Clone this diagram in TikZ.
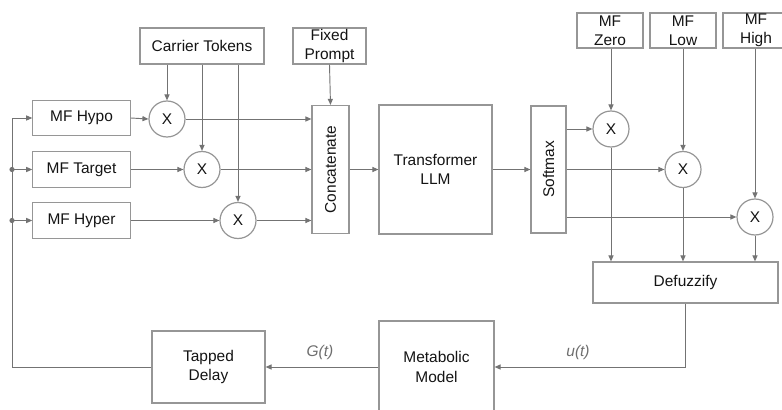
\documentclass[tikz,border=0pt]{standalone}
\usepackage{fontspec}
\setmainfont{Liberation Sans}
\usetikzlibrary{arrows.meta}

\definecolor{boxgray}{RGB}{150,150,150}
\definecolor{linegray}{RGB}{115,115,115}
\definecolor{textdark}{RGB}{20,20,20}
\definecolor{labelgray}{RGB}{110,110,110}

\begin{document}
\begin{tikzpicture}[x=0.75pt,y=-0.75pt,
    font=\fontsize{11.6}{14.3}\selectfont,
    block/.style={draw=boxgray,line width=0.9pt,fill=white,align=center,
                  inner sep=0pt,text=textdark},
    mult/.style={draw=boxgray,line width=0.9pt,fill=white,circle,
                 minimum size=27pt,inner sep=0pt,text=textdark},
    conn/.style={draw=linegray,line width=0.7pt,
                 -{Triangle[length=4.5pt,width=3.8pt]}},
    wire/.style={draw=linegray,line width=0.7pt},
    sig/.style={text=labelgray,font=\fontsize{11.6}{14.3}\selectfont\itshape}]

  % -------- FRAME --------
  \clip (0,0) rectangle (782,410);

  % -------- INPUT SIDE --------
  \node[block,minimum width=93pt,minimum height=27pt]    (carrier) at (202,46)   {Carrier Tokens};
  \node[block,minimum width=54.75pt,minimum height=27pt] (prompt)  at (329.5,46) {Fixed\\Prompt};

  \node[block,minimum width=73pt,minimum height=26.5pt] (hypo)   at (81.5,118)   {MF Hypo};
  \node[block,minimum width=73pt,minimum height=26.5pt] (target) at (81.5,169.5) {MF Target};
  \node[block,minimum width=73pt,minimum height=26.5pt] (hyper)  at (81.5,220.5) {MF Hyper};

  % Multipliers
  \node[mult] (xhypo)   at (167,119) {X};
  \node[mult] (xtarget) at (202,169.5) {X};
  \node[mult] (xhyper)  at (238,220.5) {X};

  % Concatenate, transformer, softmax
  \node[block,minimum width=27.75pt,minimum height=96pt]    (concat) at (330.5,169.5) {};
  \node[rotate=90,text=textdark] (concattxt) at (concat) {Concatenate};
  \node[block,minimum width=84.75pt,minimum height=96.75pt] (llm)    at (435.5,169.5) {Transformer\\LLM};
  \node[block,minimum width=26.25pt,minimum height=95.25pt] (soft)   at (548.5,169.5) {};
  \node[rotate=90,text=textdark] (softtxt) at (soft) {Softmax};

  % -------- OUTPUT SIDE --------
  \node[block,minimum width=49.5pt,minimum height=26.25pt] (zero) at (610,30.5) {MF\\Zero};
  \node[block,minimum width=49.5pt,minimum height=26.25pt] (low)  at (683,30.5) {MF\\Low};
  \node[block,minimum width=49.5pt,minimum height=26.25pt] (high) at (756,30.5) {MF\\High};

  \node[mult] (xzero) at (611,129)   {X};
  \node[mult] (xlow)  at (683,169.5) {X};
  \node[mult] (xhigh) at (755,217)   {X};

  \node[block,minimum width=138.75pt,minimum height=30.75pt] (defuzz) at (685.5,282.5) {Defuzzify};

  % -------- PLANT / FEEDBACK --------
  \node[block,minimum width=84.75pt,minimum height=54pt] (delay) at (208.5,367) {Tapped\\Delay};
  \node[block,minimum width=86.25pt,minimum height=69pt] (plant) at (436.5,367) {Metabolic\\Model};

  \node[sig] (glabel) at (320,352) {G(t)};
  \node[sig] (ulabel) at (578,352) {u(t)};

  % ---------- Connections ----------
  % Carrier tokens into the multipliers
  \foreach \m in {xhypo,xtarget,xhyper} {
      \draw[conn] (carrier.south -| \m.north) -- (\m.north);
  }
  % MF inputs into the multipliers
  \draw[conn] (hypo.east)   -- (xhypo.west);
  \draw[conn] (target.east) -- (xtarget.west);
  \draw[conn] (hyper.east)  -- (xhyper.west);

  % Into concatenate
  \foreach \m in {xhypo,xtarget,xhyper} {
      \draw[conn] (\m.east) -- (concat.west |- \m.east);
  }
  \draw[conn] (prompt.south) -- (concat.north);
  \draw[conn] (concat.east) -- (llm.west);
  \draw[conn] (llm.east) -- (soft.west);

  % Softmax and output MFs into the multipliers
  \foreach \m/\f in {xzero/zero,xlow/low,xhigh/high} {
      \draw[conn] (soft.east |- \m.west) -- (\m.west);
      \draw[conn] (\f.south -| \m.north) -- (\m.north);
      \draw[conn] (\m.south) -- (defuzz.north -| \m.south);
  }

  % Defuzzify -> plant -> delay
  \draw[conn] (defuzz.south) |- (plant.east);
  \draw[conn] (plant.west) -- (delay.east);

  % Feedback loop
  \coordinate (fb) at (12,367);
  \draw[wire] (delay.west) -- (fb);
  \draw[conn] (fb) |- (hypo.west);
  \foreach \m in {target,hyper} {
      \draw[conn] (fb |- \m.west) -- (\m.west);
      \fill[linegray] (fb |- \m.west) circle (2.6);
  }

\end{tikzpicture}
\end{document}
